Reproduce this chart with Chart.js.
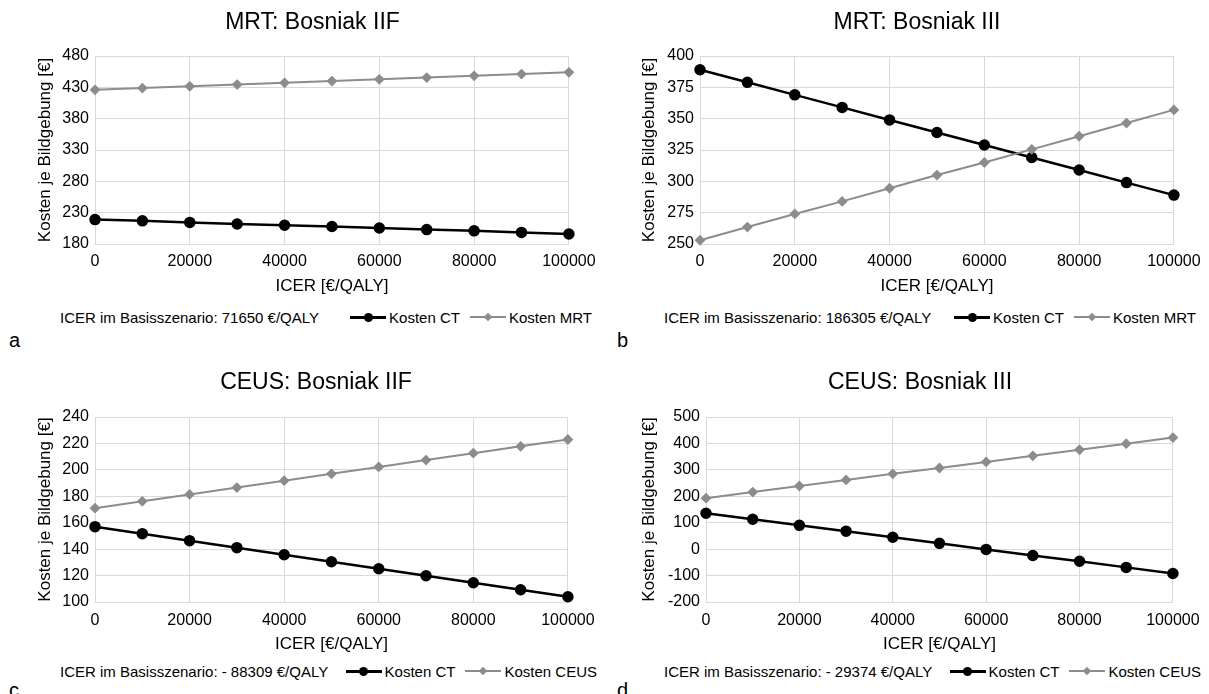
<!DOCTYPE html>
<html>
<head>
<meta charset="utf-8">
<script src="https://cdn.jsdelivr.net/npm/chart.js@4.4.0/dist/chart.umd.min.js"></script>
<style>
  body { margin: 0; background: #fff; width: 1209px; height: 694px; overflow: hidden; position: relative;
         font-family: "Liberation Sans", Arial, sans-serif; color: #000; }
  canvas { position: absolute; }
  .legend { position: absolute; display: flex; justify-content: space-between; align-items: center;
            height: 20px; font-size: 15px; white-space: nowrap; }
  .items { display: flex; align-items: center; }
  .mk { display: inline-block; position: relative; width: 36px; height: 12px; margin-right: 3px; }
  .mk.second { margin-left: 10px; }
  .mk::before { content: ''; position: absolute; left: 0; right: 0; top: 5px; height: 2.5px; background: #000; }
  .mk::after { content: ''; position: absolute; left: 13.5px; top: 1.5px; width: 9px; height: 9px; border-radius: 50%; background: #000; }
  .mk.gr::before { background: #8c8c8c; height: 2px; }
  .mk.gr::after { left: 15px; top: 3px; width: 6px; height: 6px; border-radius: 0; transform: rotate(45deg); background: #8c8c8c; }
  .letter { position: absolute; font-size: 20px; line-height: 20px; }
</style>
</head>
<body>
<canvas id="chartA" width="604" height="297" style="left:0;top:0"></canvas>
<canvas id="chartB" width="605" height="297" style="left:604px;top:0"></canvas>
<canvas id="chartC" width="604" height="295" style="left:0;top:360px"></canvas>
<canvas id="chartD" width="605" height="295" style="left:604px;top:360px"></canvas>
<div id="legends"></div>

<script>
// ICER threshold (x axis) shared by all panels
const icer = [0, 10000, 20000, 30000, 40000, 50000, 60000, 70000, 80000, 90000, 100000];

// a: MRT Bosniak IIF
const ctA = [219, 217, 214.5, 212, 210, 208, 205.5, 203, 201, 198.5, 196];
const mrtA = [426, 428.8, 431.6, 434.4, 437.2, 440, 442.8, 445.6, 448.4, 451.2, 454];

// b: MRT Bosniak III
const ctB = [389, 379, 369, 359, 349, 339, 329, 319, 309, 299, 289];
const mrtB = [253, 263.5, 274, 284, 294.5, 305, 315, 325.5, 336, 346.5, 357];

// c: CEUS Bosniak IIF
const ctC = [157, 151.7, 146.4, 141.1, 135.8, 130.5, 125.2, 119.9, 114.6, 109.3, 104];
const ceusC = [171, 176.2, 181.4, 186.6, 191.8, 197, 202.2, 207.4, 212.6, 217.8, 223];

// d: CEUS Bosniak III
const ctD = [136, 113, 90, 68, 45, 22, -1, -24, -46, -69, -92];
const ceusD = [193, 216, 239, 262, 285, 307, 330, 353, 376, 399, 422];

const titles = ['MRT: Bosniak IIF', 'MRT: Bosniak III', 'CEUS: Bosniak IIF', 'CEUS: Bosniak III'];
const yRanges = [[180, 480, 50], [250, 400, 25], [100, 240, 20], [-200, 500, 100]];
const baseIcer = ['71650', '186305', '- 88309', '- 29374'];
const otherLabels = ['Kosten MRT', 'Kosten MRT', 'Kosten CEUS', 'Kosten CEUS'];
const letters = ['a', 'b', 'c', 'd'];

Chart.defaults.font.family = '"Liberation Sans", Arial, sans-serif';
Chart.defaults.color = '#000';

const gridColor = '#d9d9d9';

const points = (ys) => icer.map((x, i) => ({ x: x, y: ys[i] }));

const makeChart = (id, idx, ct, other, lay) => {
  const [yMin, yMax, yStep] = yRanges[idx];
  new Chart(document.getElementById(id), {
    type: 'line',
    data: {
      datasets: [
        {
          label: 'Kosten CT',
          data: points(ct),
          borderColor: '#000',
          backgroundColor: '#000',
          borderWidth: 2.5,
          pointStyle: 'circle',
          pointRadius: 4.5,
          pointHoverRadius: 4.5,
          clip: false,
          order: 1,
        },
        {
          label: otherLabels[idx],
          data: points(other),
          borderColor: '#8c8c8c',
          backgroundColor: '#8c8c8c',
          borderWidth: 2,
          pointStyle: 'rectRot',
          pointRadius: 4,
          pointHoverRadius: 4,
          clip: false,
          order: 0,
        },
      ],
    },
    options: {
      responsive: false,
      animation: false,
      layout: { padding: { left: lay.left, right: lay.right, top: 0, bottom: 0 } },
      plugins: {
        legend: { display: false },
        tooltip: { enabled: false },
        title: {
          display: true,
          text: titles[idx],
          color: '#000',
          font: { size: 23, weight: 'normal' },
          padding: { top: 9.2, bottom: lay.titleBottom },
        },
      },
      scales: {
        x: {
          type: 'linear',
          min: 0,
          max: 100000,
          ticks: { stepSize: 20000, maxRotation: 0, padding: lay.xPad, font: { size: 16 }, callback: (v) => String(v) },
          grid: { color: gridColor, drawTicks: false },
          border: { color: gridColor },
          title: { display: true, text: 'ICER [€/QALY]', font: { size: 17 }, padding: { top: 0, bottom: 0 } },
          afterFit: (s) => { s.height = 53; },
        },
        y: {
          min: yMin,
          max: yMax,
          ticks: { stepSize: yStep, padding: 6, font: { size: 16 } },
          grid: { color: gridColor, drawTicks: false },
          border: { color: gridColor },
          title: { display: true, text: 'Kosten je Bildgebung [€]', font: { size: 17 }, padding: { top: lay.yTitlePad, bottom: 0 } },
          afterFit: (s) => { s.width = lay.yWidth; },
        },
      },
    },
  });
};

makeChart('chartA', 0, ctA, mrtA, { left: 52, right: 31, yWidth: 43, yTitlePad: -17.2, titleBottom: 19.2, xPad: 8.4 });
makeChart('chartB', 1, ctB, mrtB, { left: 53, right: 32, yWidth: 43, yTitlePad: -18.2, titleBottom: 19.2, xPad: 8.4 });
makeChart('chartC', 2, ctC, ceusC, { left: 57, right: 29, yWidth: 38, yTitlePad: -22.2, titleBottom: 20.2, xPad: 9.4 });
makeChart('chartD', 3, ctD, ceusD, { left: 59, right: 32, yWidth: 43, yTitlePad: -24.2, titleBottom: 20.2, xPad: 9.4 });

// legend rows + panel letters
const legendPos = [[60, 307, 532], [664, 307, 532], [60, 661, 537], [664, 661, 537]];
const letterPos = [[9, 330], [617, 330], [9, 680], [617, 680]];
const holder = document.getElementById('legends');
letters.forEach((l, i) => {
  const [lx, ly, lw] = legendPos[i];
  const row = document.createElement('div');
  row.className = 'legend';
  row.style.left = lx + 'px';
  row.style.top = ly + 'px';
  row.style.width = lw + 'px';
  row.innerHTML =
    '<span>ICER im Basisszenario: ' + baseIcer[i] + ' €/QALY</span>' +
    '<span class="items"><span class="mk"></span>Kosten CT<span class="mk gr second"></span>' + otherLabels[i] + '</span>';
  holder.appendChild(row);

  const letter = document.createElement('div');
  letter.className = 'letter';
  letter.textContent = l;
  letter.style.left = letterPos[i][0] + 'px';
  letter.style.top = letterPos[i][1] + 'px';
  holder.appendChild(letter);
});
</script>
</body>
</html>
